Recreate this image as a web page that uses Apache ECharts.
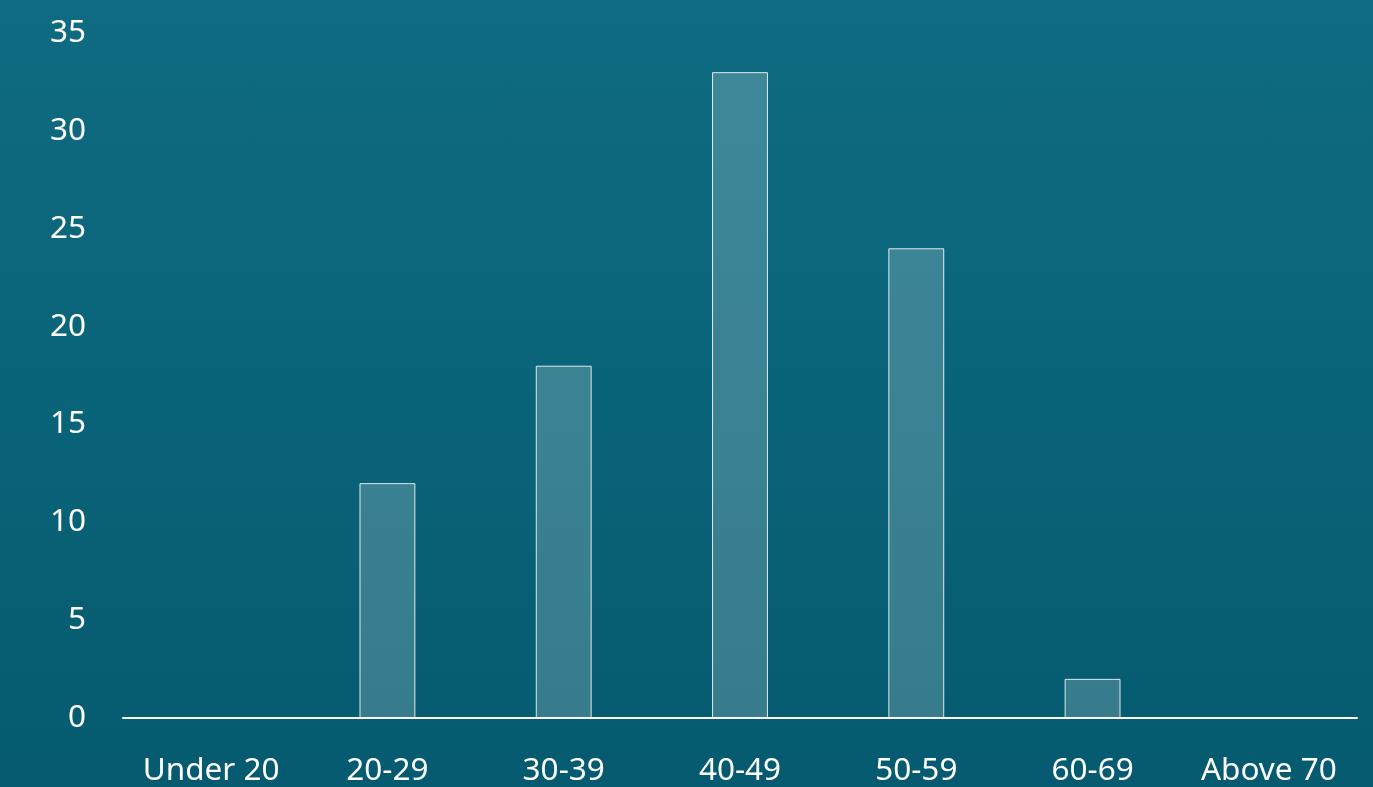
<!DOCTYPE html>
<html><head><meta charset="utf-8">
<script src="https://cdn.jsdelivr.net/npm/echarts@6/dist/echarts.min.js"></script>
<style>html,body{margin:0;padding:0;width:1373px;height:787px;overflow:hidden}
#c{width:1373px;height:787px;background:linear-gradient(180deg,#0f6b81 0%,#0a6479 50%,#055a6f 100%)}</style>
</head><body><div id="c"></div>
<script>
const categories = ['Under 20','20-29','30-39','40-49','50-59','60-69','Above 70'];
const values = [0,12,18,33,24,2,0];
const yTicks = [0,5,10,15,20,25,30,35];
const chart = echarts.init(document.getElementById('c'));
const font = '"Noto Sans", "Open Sans", sans-serif';
chart.setOption({
  animation:false,
  backgroundColor:'transparent',
  grid:{left:123,right:16,top:33,bottom:68,containLabel:false},
  xAxis:{type:'category',data:categories,
    axisLine:{onZero:false,lineStyle:{color:'#ffffff',width:2}},
    axisTick:{show:false},
    axisLabel:{color:'#ffffff',fontSize:31.5,fontFamily:font,margin:37,interval:0}},
  yAxis:{type:'value',min:yTicks[0],max:yTicks[yTicks.length-1],interval:5,
    axisLine:{show:false},axisTick:{show:false},splitLine:{show:false},
    axisLabel:{color:'#ffffff',fontSize:31.5,fontFamily:font,margin:37}},
  series:[{type:'bar',data:values,barWidth:'31.7%',
    itemStyle:{color:'rgba(255,255,255,0.2)',borderColor:'rgba(255,255,255,0.85)',borderWidth:1}}]
});
</script></body></html>
